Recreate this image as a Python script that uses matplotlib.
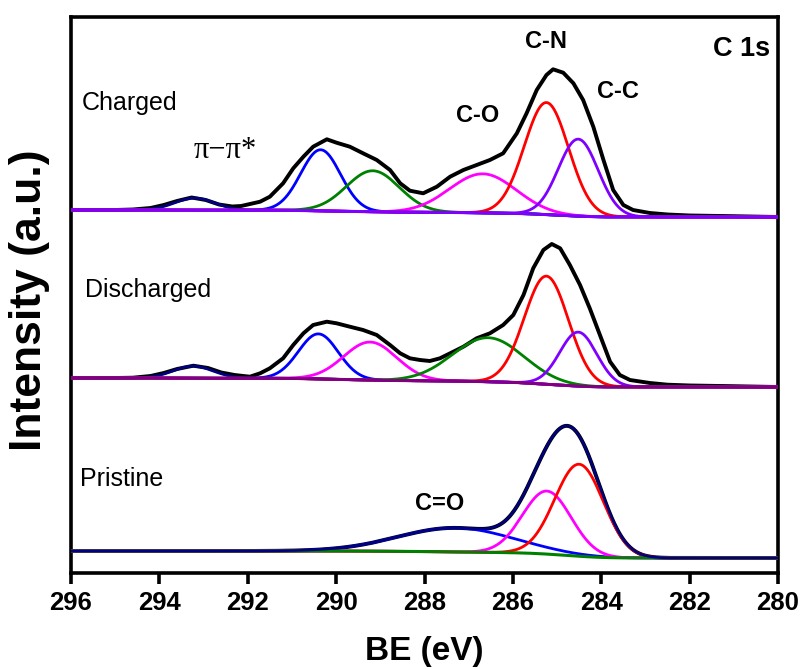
import numpy as np
import matplotlib.pyplot as plt

# C 1s XPS fits: peak centre (eV), height (a.u.), gaussian width (eV)
be = np.linspace(280, 296, 1601)

charged_centres = [293.20, 290.35, 289.17, 286.68, 285.24, 284.52]
charged_heights = [12, 61, 41, 39, 112, 77]
charged_widths = [0.45, 0.45, 0.60, 0.75, 0.50, 0.45]
charged_bg = [363, 356]   # background at 296 eV and at 280 eV

discharged_centres = [293.23, 290.40, 289.23, 286.56, 285.24, 284.52]
discharged_heights = [12, 45, 38, 44, 108, 54]
discharged_widths = [0.45, 0.45, 0.60, 0.80, 0.50, 0.42]
discharged_bg = [195, 186]

pristine_centres = [287.30, 285.23, 284.50]
pristine_heights = [24, 63, 92]
pristine_widths = [1.30, 0.55, 0.55]
pristine_bg = [22, 15]

charged_be = [296.0, 295.0, 294.6, 294.2, 293.9, 293.6, 293.27, 292.95, 292.65,
              292.35, 292.15, 291.95, 291.72, 291.50, 291.20, 290.97, 290.74,
              290.52, 290.21, 289.99, 289.69, 289.39, 289.08, 288.78, 288.55,
              288.33, 288.03, 287.72, 287.42, 287.12, 286.82, 286.52, 286.22,
              285.91, 285.69, 285.46, 285.24, 285.09, 284.86, 284.63, 284.41,
              284.18, 283.95, 283.73, 283.50, 283.28, 282.90, 282.5, 282.0,
              281.0, 280.0]
charged_int = [363, 363, 363.5, 365, 368, 372, 375.5, 373, 368.5, 366.5, 367,
               369, 371.3, 376.3, 389.7, 404.7, 416.3, 426.3, 433.7, 430.3,
               426.3, 419.7, 413, 403, 389.7, 382.3, 379.7, 386.3, 396.3, 403,
               408, 413, 419.7, 439.7, 459.7, 483, 498, 503.7, 500.3, 489.7,
               473, 446.3, 413, 383, 368, 363, 360, 358.5, 357.5, 356.8, 356]

discharged_be = [296.0, 295.0, 294.6, 294.2, 293.9, 293.6, 293.23, 292.9, 292.6,
                 292.3, 292.1, 291.95, 291.72, 291.50, 291.20, 290.97, 290.74,
                 290.52, 290.21, 289.99, 289.69, 289.39, 289.08, 288.78, 288.55,
                 288.33, 288.10, 287.88, 287.65, 287.42, 287.12, 286.82, 286.52,
                 286.22, 285.99, 285.76, 285.54, 285.31, 285.12, 284.93, 284.71,
                 284.48, 284.26, 284.03, 283.80, 283.58, 283.35, 282.90, 282.5,
                 282.0, 281.0, 280.0]
discharged_int = [195, 195, 195.3, 197, 200, 204, 207.3, 205, 200.5, 198, 197,
                  196.3, 199.7, 204.7, 214.7, 228, 239.7, 248, 251.3, 249.7,
                  246.3, 243, 238, 228, 219.7, 214.7, 213, 212, 214.7, 219.7,
                  226.3, 234.7, 239.7, 248, 258, 278, 304.7, 323, 329, 324.7,
                  308, 288, 264.7, 238, 211.3, 198, 193, 190, 188.3, 187.5,
                  186.8, 186]

panel_names = ["Charged", "Discharged", "Pristine"]
peak_names = ["\u03c0\u2212\u03c0*", "C-O", "C-N", "C-C", "C=O"]

plt.rcParams['font.family'] = ['Liberation Sans', 'DejaVu Sans']


def gauss(x, c, h, s):
    return h * np.exp(-(x - c) ** 2 / (2 * s ** 2))


def shirley(total, left, right):
    cum = np.cumsum(total)
    return right + (left - right) * cum / cum[-1]


def draw_panel(ax, centres, heights, widths, colors, bg_lr, bg_color,
               meas_be=None, meas_int=None, env_color=None):
    comps = [gauss(be, c, h, s) for c, h, s in zip(centres, heights, widths)]
    total = np.sum(comps, axis=0)
    bg = shirley(total, bg_lr[0], bg_lr[1])
    if meas_be is not None:
        ax.plot(meas_be, meas_int, color='black', lw=2.8, zorder=3)
    else:
        ax.plot(be, bg + total, color='black', lw=2.8, zorder=3)
    if env_color:
        ax.plot(be, bg + total, color=env_color, lw=1.8, zorder=4)
    for comp, col in zip(comps, colors):
        ax.plot(be, bg + comp, color=col, lw=2.0, zorder=3)
    ax.plot(be, bg, color=bg_color, lw=2.2, zorder=3)


fig = plt.figure(figsize=(8.03, 6.69), dpi=100)
ax = fig.add_axes([71 / 803, 1 - 573 / 669, 707 / 803, 556 / 669])

draw_panel(ax, charged_centres, charged_heights, charged_widths,
           ['#000080', '#0000ff', '#008000', '#ff00ff', '#ff0000', '#8000ff'],
           charged_bg, '#8000ff', charged_be, charged_int)
draw_panel(ax, discharged_centres, discharged_heights, discharged_widths,
           ['#000080', '#0000ff', '#ff00ff', '#008000', '#ff0000', '#8000ff'],
           discharged_bg, '#800080', discharged_be, discharged_int)
draw_panel(ax, pristine_centres, pristine_heights, pristine_widths,
           ['#0000ff', '#ff00ff', '#ff0000'],
           pristine_bg, '#008000', env_color='#000080')

ax.set_xlim(296, 280)
ax.set_ylim(0, 556)
ax.set_xticks(np.arange(296, 279, -2))
ax.set_yticks([])
for sp in ax.spines.values():
    sp.set_linewidth(2.6)
ax.tick_params(axis='x', direction='out', length=8, width=2.6, pad=5,
               labelsize=18.5)
for lab in ax.get_xticklabels():
    lab.set_fontweight('bold')

ax.set_xlabel("BE (eV)", fontsize=24, fontweight='bold', labelpad=15)
ax.set_ylabel("Intensity (a.u.)", fontsize=32, fontweight='bold')
ax.yaxis.set_label_coords(-0.030, 0.49)

# panel names
ax.text(295.75, 470, panel_names[0], fontsize=18, ha='left', va='center')
ax.text(295.68, 283, panel_names[1], fontsize=18, ha='left', va='center')
ax.text(295.80, 94, panel_names[2], fontsize=18, ha='left', va='center')

# peak assignments
ax.text(292.52, 423, peak_names[0], fontsize=22, family=['Liberation Serif', 'DejaVu Serif'],
        ha='center', va='center')
ax.text(286.79, 458, peak_names[1], fontsize=17, fontweight='bold', ha='center', va='center')
ax.text(285.25, 531, peak_names[2], fontsize=17, fontweight='bold', ha='center', va='center')
ax.text(283.62, 482, peak_names[3], fontsize=17, fontweight='bold', ha='center', va='center')
ax.text(287.65, 70, peak_names[4], fontsize=17, fontweight='bold', ha='center', va='center')
ax.text(280.82, 524, "C 1s", fontsize=19.5, fontweight='bold', ha='center', va='center')

fig.savefig("out.png", dpi=100)
